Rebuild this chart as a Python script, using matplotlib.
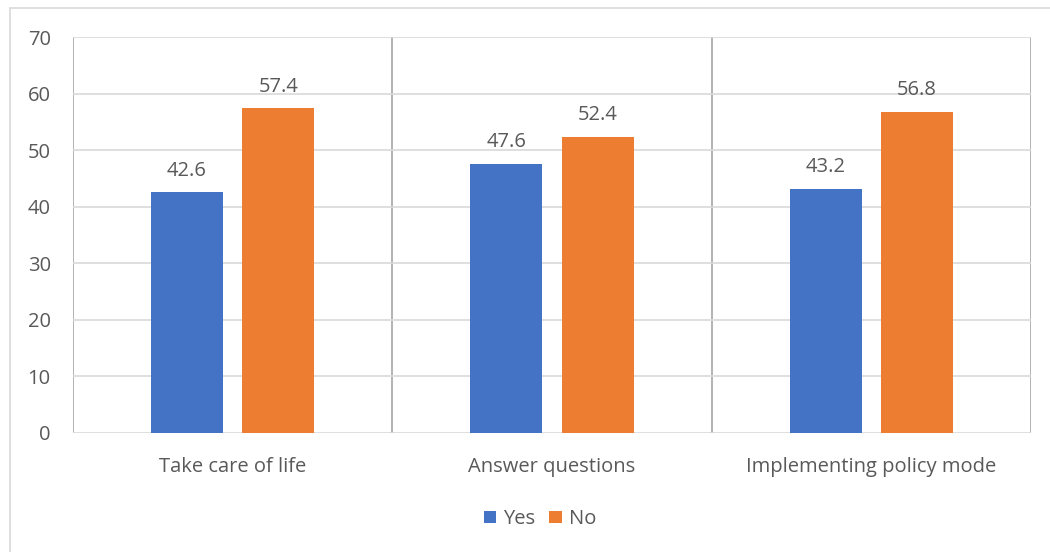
import matplotlib.pyplot as plt
import matplotlib.patches as mpatches
import numpy as np

# data
categories = ['Take care of life', 'Answer questions', 'Implementing policy mode']
yes_values = [42.6, 47.6, 43.2]
no_values = [57.4, 52.4, 56.8]

plt.rcParams['font.family'] = ['Open Sans', 'DejaVu Sans']

fig = plt.figure(figsize=(10.5, 5.52), dpi=100)
# outer chart border
fig.patches.append(mpatches.Rectangle((10 / 1050, -0.1), 1.2, 1.1 - 8 / 552,
                                      transform=fig.transFigure, fill=False,
                                      edgecolor='#d9d9d9', linewidth=1.2))
ax = fig.add_axes([73 / 1050, 1 - 433 / 552, (1031 - 73) / 1050, (433 - 37) / 552])

x = np.arange(len(categories))
width = 0.226
off = 0.143
text_color = '#595959'
fs = 14.5

b1 = ax.bar(x - off, yes_values, width, color='#4472C4', label='Yes', zorder=3)
b2 = ax.bar(x + off, no_values, width, color='#ED7D31', label='No', zorder=3)

for bars in (b1, b2):
    for bar in bars:
        h = bar.get_height()
        ax.text(bar.get_x() + bar.get_width() / 2, h + 2.0, f'{h:.1f}',
                ha='center', va='bottom', fontsize=fs, color=text_color, zorder=4)

ax.set_xlim(-0.5, len(categories) - 0.5)
ax.set_ylim(0, 70)
ax.set_yticks(range(0, 71, 10))
ax.yaxis.grid(True, color='#d9d9d9', linewidth=1.2, zorder=0)
for xs in np.arange(-0.5, len(categories), 1.0):
    ax.axvline(xs, color='#a6a6a6', linewidth=1.2, zorder=1)

for s in ax.spines.values():
    s.set_visible(False)
ax.tick_params(axis='both', length=0, labelsize=fs, labelcolor=text_color)
ax.tick_params(axis='y', pad=16)
ax.tick_params(axis='x', pad=17)
ax.set_xticks(x)
ax.set_xticklabels(categories)

leg = fig.legend(loc='center', bbox_to_anchor=(540 / 1050, 1 - 519 / 552), ncol=2,
                 frameon=False, fontsize=fs, handlelength=0.6, handleheight=0.6,
                 handletextpad=0.35, columnspacing=0.7)
for t in leg.get_texts():
    t.set_color(text_color)

fig.savefig('out.png', dpi=100)
